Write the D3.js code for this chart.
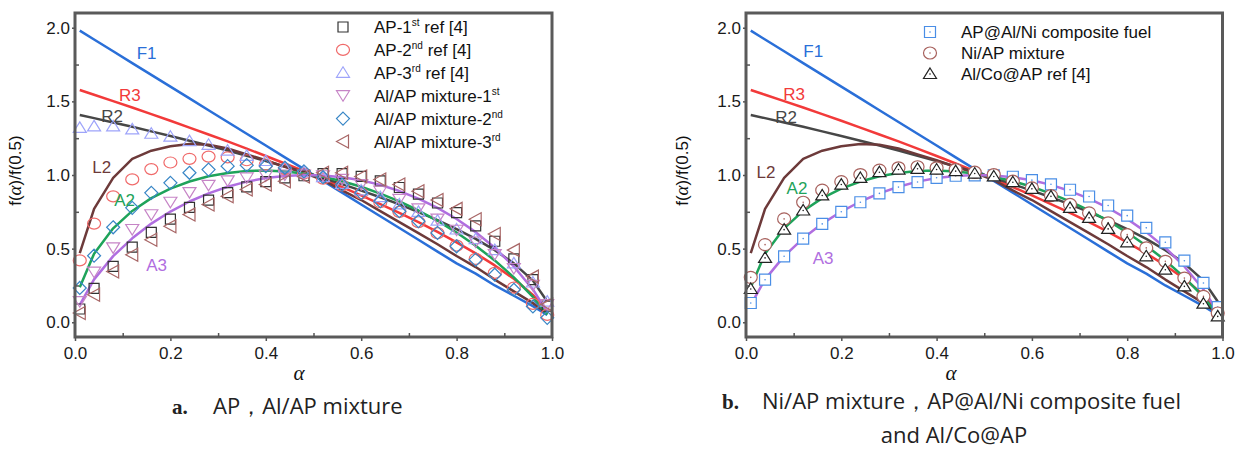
<!DOCTYPE html>
<html>
<head>
<meta charset="utf-8">
<style>
  body { margin: 0; background: #fff; }
  .tick text { font-family: "Liberation Sans", Arial, sans-serif; font-size: 17px; fill: #1a1a1a; }
  .tick line { stroke: #555; stroke-width: 1.5; }
  .domain { display: none; }
  .frame { fill: none; stroke: #5a5a5a; stroke-width: 3; }
  .model { fill: none; stroke-width: 2.5; stroke-linejoin: round; }
  .lbl { font-family: "Liberation Sans", Arial, sans-serif; font-size: 17px; }
  .leg { font-family: "Liberation Sans", Arial, sans-serif; font-size: 17px; fill: #111; }
  .ylab { font-family: "Liberation Sans", Arial, sans-serif; font-size: 17px; fill: #111; }
  .xlab { font-family: "Liberation Serif", serif; font-style: italic; font-size: 21px; fill: #111; }
  .cap { font-family: "Open Sans", Lato, sans-serif; font-size: 22px; fill: #222; }
  .capb { font-family: "Liberation Serif", serif; font-weight: bold; font-size: 21px; fill: #222; }
</style>
</head>
<body>
<svg width="1244" height="450"></svg>
<script src="https://cdn.jsdelivr.net/npm/d3@7"></script>
<script>

// conversion degree alpha, shared by every curve and marker set
var alpha = [0.01, 0.04, 0.08, 0.12, 0.16, 0.20, 0.24, 0.28, 0.32, 0.36, 0.40, 0.44, 0.48,
             0.52, 0.56, 0.60, 0.64, 0.68, 0.72, 0.76, 0.80, 0.84, 0.88, 0.92, 0.96, 0.99];

// model curves f(a)/f(0.5)
var curveF1 = [1.98, 1.92, 1.84, 1.76, 1.68, 1.60, 1.52, 1.44, 1.36, 1.28, 1.20, 1.12, 1.04,
               0.96, 0.88, 0.80, 0.72, 0.64, 0.56, 0.48, 0.40, 0.33, 0.25, 0.18, 0.11, 0.05];
var curveR3 = [1.577, 1.545, 1.502, 1.458, 1.413, 1.368, 1.322, 1.275, 1.228, 1.179, 1.129, 1.078, 1.026,
               0.973, 0.918, 0.862, 0.803, 0.743, 0.680, 0.614, 0.543, 0.468, 0.386, 0.295, 0.186, 0.074];
var curveR2 = [1.407, 1.386, 1.356, 1.327, 1.296, 1.265, 1.233, 1.200, 1.166, 1.131, 1.095, 1.058, 1.020,
               0.980, 0.938, 0.894, 0.849, 0.800, 0.748, 0.693, 0.632, 0.566, 0.490, 0.400, 0.283, 0.141];
var curveL2 = [0.47, 0.77, 0.98, 1.11, 1.165, 1.195, 1.21, 1.205, 1.18, 1.14, 1.10, 1.055, 1.015,
               0.965, 0.895, 0.83, 0.755, 0.68, 0.605, 0.53, 0.45, 0.375, 0.29, 0.21, 0.13, 0.06];
var curveA2 = [0.238, 0.466, 0.638, 0.756, 0.843, 0.908, 0.956, 0.991, 1.014, 1.027, 1.030, 1.024, 1.010,
               0.988, 0.958, 0.920, 0.874, 0.821, 0.759, 0.689, 0.609, 0.520, 0.420, 0.305, 0.172, 0.052];
var curveA3 = [0.118, 0.291, 0.449, 0.570, 0.670, 0.752, 0.820, 0.875, 0.920, 0.955, 0.979, 0.994, 1.000,
               0.997, 0.985, 0.964, 0.933, 0.891, 0.840, 0.777, 0.701, 0.612, 0.506, 0.379, 0.223, 0.071];

// panel a experimental points
var apRef1 = [0.09, 0.23, 0.38, 0.51, 0.61, 0.70, 0.78, 0.83, 0.88, 0.92, 0.955, 0.98, 0.995,
              1.01, 1.01, 0.99, 0.96, 0.915, 0.87, 0.81, 0.745, 0.655, 0.55, 0.43, 0.29, 0.11];
var apRef2 = [0.42, 0.67, 0.855, 0.97, 1.04, 1.085, 1.11, 1.125, 1.12, 1.10, 1.07, 1.04, 1.01,
              0.975, 0.93, 0.875, 0.815, 0.75, 0.68, 0.605, 0.52, 0.43, 0.335, 0.235, 0.125, 0.05];
var apRef3 = [1.32, 1.33, 1.33, 1.31, 1.28, 1.26, 1.23, 1.205, 1.165, 1.13, 1.095, 1.05, 1.02,
              0.985, 0.94, 0.895, 0.85, 0.80, 0.75, 0.69, 0.63, 0.565, 0.49, 0.40, 0.27, 0.14];
var alAp1 = [0.14, 0.34, 0.505, 0.63, 0.73, 0.815, 0.88, 0.93, 0.96, 0.98, 0.995, 1.0, 1.0,
             0.995, 0.97, 0.935, 0.89, 0.835, 0.77, 0.70, 0.625, 0.545, 0.46, 0.365, 0.25, 0.12];
var alAp2 = [0.233, 0.452, 0.645, 0.777, 0.879, 0.947, 1.015, 1.037, 1.06, 1.067, 1.06, 1.049, 1.025,
             0.985, 0.935, 0.879, 0.822, 0.754, 0.686, 0.607, 0.516, 0.425, 0.323, 0.221, 0.107, 0.03];
var alAp3 = [0.063, 0.187, 0.345, 0.459, 0.561, 0.652, 0.731, 0.80, 0.856, 0.901, 0.935, 0.958, 0.99,
             1.015, 1.015, 0.99, 0.969, 0.935, 0.89, 0.83, 0.77, 0.70, 0.60, 0.49, 0.31, 0.12];

// panel b experimental points
var apAlNi = [0.131, 0.289, 0.448, 0.568, 0.668, 0.75, 0.815, 0.875, 0.918, 0.952, 0.981, 0.995, 0.997,
              0.997, 0.988, 0.965, 0.937, 0.90, 0.854, 0.793, 0.724, 0.641, 0.543, 0.418, 0.267, 0.103];
var niAp = [0.305, 0.527, 0.702, 0.815, 0.897, 0.955, 1.003, 1.033, 1.049, 1.056, 1.049, 1.037, 1.019,
            1.003, 0.958, 0.913, 0.86, 0.80, 0.743, 0.675, 0.595, 0.505, 0.414, 0.30, 0.176, 0.063];
var alCoAp = [0.226, 0.437, 0.629, 0.759, 0.861, 0.935, 0.98, 1.019, 1.037, 1.042, 1.037, 1.026, 1.01,
              0.99, 0.951, 0.906, 0.855, 0.777, 0.709, 0.634, 0.543, 0.448, 0.357, 0.244, 0.126, 0.04];

var xTicks = [0, 0.2, 0.4, 0.6, 0.8, 1.0];
var xMinor = [0.1, 0.3, 0.5, 0.7, 0.9];
var yTicks = [0, 0.5, 1.0, 1.5, 2.0];
var yMinor = [0.25, 0.75, 1.25, 1.75];

var svg = d3.select("svg");

var y = d3.scaleLinear().domain([-0.1, 2.1]).range([337, 13]);

var models = [
  {name: "F1", values: curveF1, color: "#2a6fd8"},
  {name: "R3", values: curveR3, color: "#f23a3a"},
  {name: "R2", values: curveR2, color: "#474747"},
  {name: "L2", values: curveL2, color: "#6d3a3a"},
  {name: "A2", values: curveA2, color: "#1ea35a"},
  {name: "A3", values: curveA3, color: "#b06ee0"}
];

// marker shapes
var shapes = {
  square: "M-5,-5H5V5H-5Z",
  squareB: "M-5.5,-5.5H5.5V5.5H-5.5Z",
  triUp: "M0,-6L6.5,4.5H-6.5Z",
  triDown: "M0,5.5L6.5,-5H-6.5Z",
  triLeft: "M-6.5,0L5.5,-6.5V6.5Z",
  diamond: "M0,-6.5L6.5,0L0,6.5L-6.5,0Z",
  circle: "M-6.5,0A6.5,5.5 0 1,0 6.5,0A6.5,5.5 0 1,0 -6.5,0Z",
  circleB: "M-6.5,0A6.5,6 0 1,0 6.5,0A6.5,6 0 1,0 -6.5,0Z"
};

var panelA = {
  range: [75, 552],
  labels: [
    {t: "F1", a: 0.15, v: 1.83, c: "#2a6fd8"},
    {t: "R3", a: 0.115, v: 1.545, c: "#f23a3a"},
    {t: "R2", a: 0.078, v: 1.40, c: "#474747"},
    {t: "L2", a: 0.056, v: 1.058, c: "#6d3a3a"},
    {t: "A2", a: 0.104, v: 0.833, c: "#1ea35a"},
    {t: "A3", a: 0.171, v: 0.39, c: "#b06ee0"}
  ],
  series: [
    {values: apRef1, shape: "square", color: "#333", fill: "none", text: ["AP-1", "st", " ref [4]"]},
    {values: apRef2, shape: "circle", color: "#f06a6a", fill: "none", text: ["AP-2", "nd", " ref [4]"]},
    {values: apRef3, shape: "triUp", color: "#9ea4fa", fill: "none", text: ["AP-3", "rd", " ref [4]"]},
    {values: alAp1, shape: "triDown", color: "#c684c6", fill: "none", text: ["Al/AP mixture-1", "st", ""]},
    {values: alAp2, shape: "diamond", color: "#3886c6", fill: "none", text: ["Al/AP mixture-2", "nd", ""]},
    {values: alAp3, shape: "triLeft", color: "#a86666", fill: "none", text: ["Al/AP mixture-3", "rd", ""]}
  ],
  legend: {x: 343, tx: 374, y0: 27, dy: 22.9},
  ylabX: 21, xlabX: 299,
  dot: false
};

var panelB = {
  range: [746, 1222.5],
  labels: [
    {t: "F1", a: 0.141, v: 1.84, c: "#2a6fd8"},
    {t: "R3", a: 0.101, v: 1.548, c: "#f23a3a"},
    {t: "R2", a: 0.084, v: 1.398, c: "#474747"},
    {t: "L2", a: 0.042, v: 1.024, c: "#6d3a3a"},
    {t: "A2", a: 0.107, v: 0.915, c: "#1ea35a"},
    {t: "A3", a: 0.162, v: 0.439, c: "#b06ee0"}
  ],
  series: [
    {values: apAlNi, shape: "squareB", color: "#4a8ee6", fill: "#fff", text: ["AP@Al/Ni composite fuel", "", ""]},
    {values: niAp, shape: "circleB", color: "#a8625e", fill: "#fff", text: ["Ni/AP mixture", "", ""]},
    {values: alCoAp, shape: "triUp", color: "#222", fill: "#fff", text: ["Al/Co@AP ref [4]", "", ""]}
  ],
  legend: {x: 930, tx: 961, y0: 32, dy: 21},
  ylabX: 688, xlabX: 951,
  dot: true
};

function drawPanel(p) {
  var x = d3.scaleLinear().domain([0, 1]).range(p.range);
  var g = svg.append("g");

  var line = d3.line()
      .x(function(d, i) { return x(alpha[i]); })
      .y(function(d) { return y(d); });

  models.forEach(function(m) {
    g.append("path")
        .datum(m.values)
        .attr("class", "model")
        .attr("stroke", m.color)
        .attr("d", line);
  });

  p.series.forEach(function(s) {
    var pts = g.append("g").selectAll("g")
      .data(s.values)
      .enter().append("g")
        .attr("transform", function(d, i) { return "translate(" + x(alpha[i]) + "," + y(d) + ")"; });
    pts.append("path")
        .attr("d", shapes[s.shape])
        .attr("fill", s.fill)
        .attr("stroke", s.color)
        .attr("stroke-width", 1.2);
    if (p.dot) {
      pts.append("circle").attr("r", 0.8).attr("fill", s.color);
    }
  });

  // curve names
  g.selectAll(".lbl")
    .data(p.labels)
    .enter().append("text")
      .attr("class", "lbl")
      .attr("x", function(d) { return x(d.a); })
      .attr("y", function(d) { return y(d.v); })
      .attr("dy", "0.36em")
      .attr("text-anchor", "middle")
      .attr("fill", function(d) { return d.c; })
      .text(function(d) { return d.t; });

  // frame
  g.append("rect")
      .attr("class", "frame")
      .attr("x", p.range[0])
      .attr("y", y(2.1))
      .attr("width", p.range[1] - p.range[0])
      .attr("height", y(-0.1) - y(2.1));

  // axes: major ticks outward, minor ticks inward
  g.append("g")
      .attr("transform", "translate(0," + y(-0.1) + ")")
      .call(d3.axisBottom(x).tickValues(xTicks).tickSize(4).tickPadding(6).tickFormat(d3.format(".1f")));
  g.append("g")
      .attr("transform", "translate(0," + y(-0.1) + ")")
      .call(d3.axisTop(x).tickValues(xMinor).tickSize(4).tickFormat(""));
  g.append("g")
      .attr("transform", "translate(" + p.range[0] + ",0)")
      .call(d3.axisLeft(y).tickValues(yTicks).tickSize(3).tickPadding(2).tickFormat(d3.format(".1f")));
  g.append("g")
      .attr("transform", "translate(" + p.range[0] + ",0)")
      .call(d3.axisRight(y).tickValues(yMinor).tickSize(4).tickFormat(""));

  // axis titles
  var yl = g.append("text")
      .attr("class", "ylab")
      .attr("transform", "translate(" + p.ylabX + "," + y(1.03) + ") rotate(-90)")
      .attr("text-anchor", "middle");
  yl.append("tspan").text("f(");
  yl.append("tspan").attr("font-family", "Liberation Serif, serif").attr("font-style", "italic").attr("font-size", "19px").text("\u03b1");
  yl.append("tspan").text(")/f(0.5)");

  g.append("text")
      .attr("class", "xlab")
      .attr("x", p.xlabX)
      .attr("y", 380)
      .attr("text-anchor", "middle")
      .text("\u03b1");

  // legend
  var leg = g.append("g");
  p.series.forEach(function(s, i) {
    var ly = p.legend.y0 + i * p.legend.dy;
    var lg = leg.append("g").attr("transform", "translate(" + p.legend.x + "," + ly + ")");
    lg.append("path")
        .attr("d", shapes[s.shape])
        .attr("fill", s.fill)
        .attr("stroke", s.color)
        .attr("stroke-width", 1.2);
    if (p.dot) lg.append("circle").attr("r", 0.8).attr("fill", s.color);
    var t = leg.append("text")
        .attr("class", "leg")
        .attr("x", p.legend.tx)
        .attr("y", ly)
        .attr("dy", "0.36em");
    t.append("tspan").text(s.text[0]);
    if (s.text[1]) {
      t.append("tspan").attr("dy", -7).attr("font-size", "10px").text(s.text[1]);
      t.append("tspan").attr("dy", 7).text(s.text[2]);
    }
  });
}

drawPanel(panelA);
drawPanel(panelB);

// captions
svg.append("text").attr("class", "capb").attr("x", 172).attr("y", 414).text("a.");
svg.append("text").attr("class", "cap").attr("x", 213).attr("y", 414).text("AP\uff0cAl/AP mixture");
svg.append("text").attr("class", "capb").attr("x", 722).attr("y", 409).text("b.");
svg.append("text").attr("class", "cap").attr("x", 762).attr("y", 409).text("Ni/AP mixture\uff0cAP@Al/Ni composite fuel");
svg.append("text").attr("class", "cap").attr("x", 954).attr("y", 443).attr("text-anchor", "middle").text("and Al/Co@AP");

</script>
</body>
</html>
